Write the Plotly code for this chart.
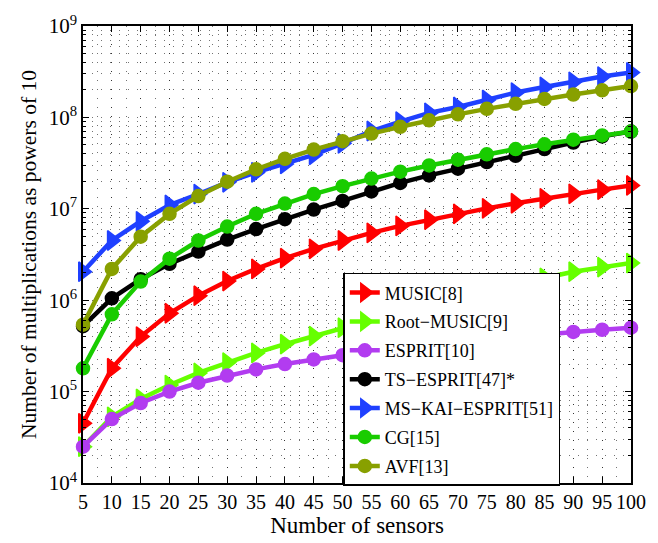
import plotly.graph_objects as go

sensors = [5, 10, 15, 20, 25, 30, 35, 40, 45, 50, 55, 60, 65, 70, 75, 80, 85, 90, 95, 100]

music = [4.5e4, 1.8e5, 4.0e5, 7.2e5, 1.12e6, 1.62e6, 2.2e6, 2.88e6, 3.65e6, 4.5e6,
         5.45e6, 6.5e6, 7.6e6, 8.8e6, 1.01e7, 1.15e7, 1.3e7, 1.46e7, 1.62e7, 1.8e7]
root_music = [2.5e4, 5.3e4, 8.3e4, 1.18e5, 1.6e5, 2.08e5, 2.65e5, 3.3e5, 4.05e5, 5.0e5,
              6.1e5, 7.4e5, 8.9e5, 1.06e6, 1.25e6, 1.47e6, 1.75e6, 2.05e6, 2.3e6, 2.55e6]
esprit = [2.5e4, 5.0e4, 7.5e4, 1.0e5, 1.25e5, 1.5e5, 1.75e5, 2.0e5, 2.25e5, 2.5e5,
          2.75e5, 3.0e5, 3.25e5, 3.5e5, 3.75e5, 4.0e5, 4.25e5, 4.5e5, 4.75e5, 5.0e5]
ts_esprit = [5.2e5, 1.05e6, 1.7e6, 2.5e6, 3.4e6, 4.6e6, 6.0e6, 7.7e6, 9.8e6, 1.22e7,
             1.55e7, 1.92e7, 2.32e7, 2.75e7, 3.25e7, 3.8e7, 4.5e7, 5.3e7, 6.2e7, 7.0e7]
ms_kai_esprit = [2.05e6, 4.5e6, 7.3e6, 1.1e7, 1.45e7, 1.95e7, 2.5e7, 3.1e7, 3.9e7, 5.2e7,
                 7.1e7, 9.0e7, 1.12e8, 1.3e8, 1.55e8, 1.87e8, 2.15e8, 2.45e8, 2.8e8, 3.1e8]
cg = [1.8e5, 7.0e5, 1.6e6, 2.85e6, 4.5e6, 6.4e6, 8.8e6, 1.14e7, 1.45e7, 1.77e7,
      2.14e7, 2.55e7, 2.98e7, 3.45e7, 3.95e7, 4.5e7, 5.08e7, 5.7e7, 6.35e7, 7.0e7]
avf = [5.4e5, 2.2e6, 4.95e6, 8.8e6, 1.38e7, 1.98e7, 2.7e7, 3.52e7, 4.45e7, 5.5e7,
       6.65e7, 7.9e7, 9.3e7, 1.08e8, 1.24e8, 1.41e8, 1.59e8, 1.78e8, 1.98e8, 2.2e8]

series = [
    ("MUSIC[8]", music, "#ff0000", "triangle-right"),
    ("Root\u2212MUSIC[9]", root_music, "#66ff00", "triangle-right"),
    ("ESPRIT[10]", esprit, "#b23cf0", "circle"),
    ("TS\u2212ESPRIT[47]*", ts_esprit, "#000000", "circle"),
    ("MS\u2212KAI\u2212ESPRIT[51]", ms_kai_esprit, "#1f40ff", "triangle-right"),
    ("CG[15]", cg, "#19cc00", "circle"),
    ("AVF[13]", avf, "#88a000", "circle"),
]

y_major = [1e4, 1e5, 1e6, 1e7, 1e8, 1e9]
y_major_text = ["10<sup>4</sup>", "10<sup>5</sup>", "10<sup>6</sup>", "10<sup>7</sup>",
                "10<sup>8</sup>", "10<sup>9</sup>"]
y_minor = [m * d for d in [1e4, 1e5, 1e6, 1e7, 1e8] for m in range(2, 10)]

FONT = "Liberation Serif"

fig = go.Figure()
for i, (name, vals, color, sym) in enumerate(series):
    tri = sym.startswith("triangle")
    fig.add_trace(go.Scatter(
        x=sensors, y=vals, name=name, mode="lines+markers",
        line=dict(color=color, width=4.5),
        marker=dict(symbol=sym, size=17 if tri else 13, color=color,
                    line=dict(color=color, width=1.5)),
        cliponaxis=False, legendgroup=f"g{i}",
    ))

GRID = dict(showgrid=True, gridcolor="rgba(0,0,0,0.55)", gridwidth=1, griddash="1px,8px")

fig.update_layout(
    width=658, height=543,
    margin=dict(l=83, r=17, t=22, b=60),
    paper_bgcolor="white", plot_bgcolor="white",
    font=dict(family=FONT, color="black", size=20),
    showlegend=True,
    legend=dict(
        x=0.475, y=0.46, xanchor="left", yanchor="top",
        bgcolor="white", bordercolor="black", borderwidth=1.5,
        font=dict(family=FONT, size=18, color="black"),
        traceorder="grouped", tracegroupgap=2.5,
    ),
    xaxis=dict(
        range=[5, 100], tickmode="array", tickvals=sensors,
        ticks="inside", ticklen=6, tickcolor="black",
        showline=True, linecolor="black", linewidth=1.5, mirror="allticks",
        zeroline=False,
        title=dict(text="Number of sensors", font=dict(size=23, family=FONT), standoff=2),
        tickfont=dict(size=20, family=FONT),
        minor=dict(dtick=2.5, tick0=5, ticks="", **GRID),
        **GRID,
    ),
    yaxis=dict(
        type="log", range=[4, 9], tickmode="array", tickvals=y_major, ticktext=y_major_text,
        ticks="inside", ticklen=6, tickcolor="black",
        showline=True, linecolor="black", linewidth=1.5, mirror="allticks",
        zeroline=False,
        title=dict(text="Number of multiplications as powers of 10",
                   font=dict(size=21.5, family=FONT), standoff=6),
        tickfont=dict(size=21, family=FONT),
        minor=dict(tickmode="array", tickvals=y_minor, ticks="inside", ticklen=3,
                   tickcolor="black", **GRID),
        **GRID,
    ),
)

fig.write_html("out.html")
